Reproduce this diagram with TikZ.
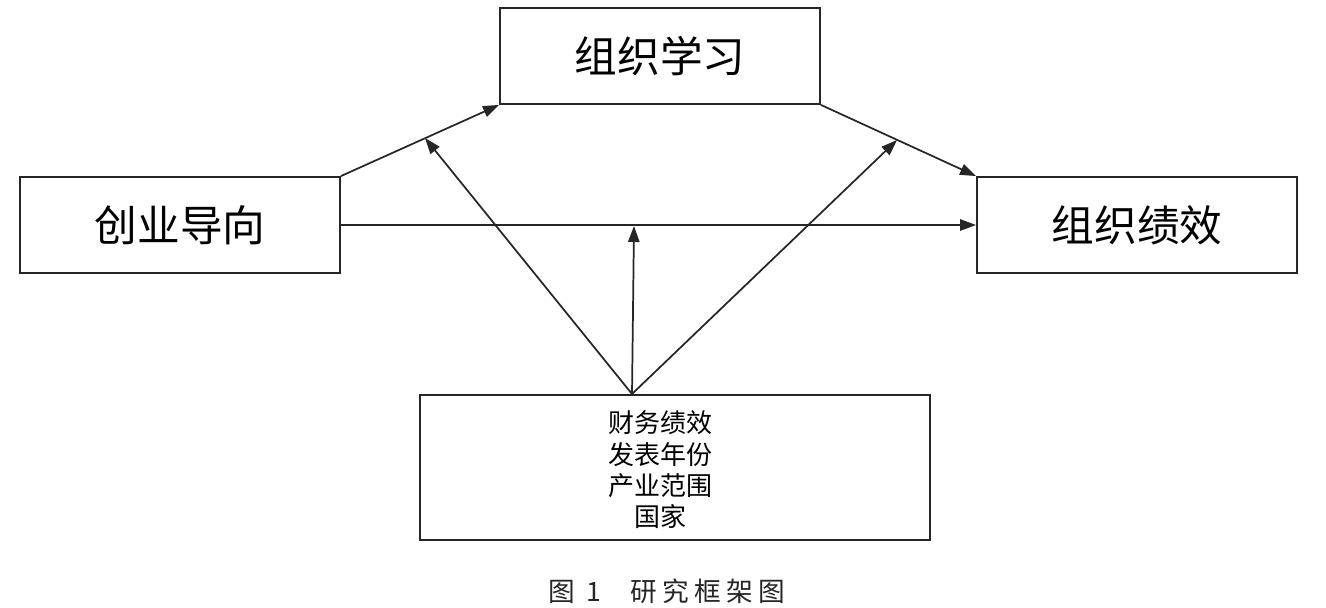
\documentclass[tikz,border=0pt]{standalone}
\usepackage{fontspec}
\usetikzlibrary{arrows.meta}
\newfontfamily\cjk{Noto Sans CJK SC}
\newfontfamily\cjkcap[LetterSpace=20]{Noto Sans CJK SC}
\begin{document}
\begin{tikzpicture}[x=0.75pt,y=-0.75pt,
  box/.style={draw=black!85, line width=1.4pt, minimum width=240pt, minimum height=72pt, inner sep=0pt, font=\cjk\fontsize{32}{38}\selectfont},
  conn/.style={draw=black!85, line width=1.3pt, -{Triangle[length=12pt,width=8.5pt]}}]
\useasboundingbox (0,0) rectangle (1326,607);
\node[box] (learn) at (660,56) {组织学习};
\node[box] (eo) at (180,225) {创业导向};
\node[box] (perf) at (1137,225) {组织绩效};
\node[draw=black!85, line width=1.4pt, minimum width=382.5pt, minimum height=108.75pt, inner sep=0pt] (ctrl) at (675,467.5) {};
\node[font=\cjk\fontsize{19.5}{23.5}\selectfont, align=center] (ctrltext) at (660,470) {财务绩效\\发表年份\\产业范围\\国家};
\coordinate (src) at (632,394);
\coordinate (m1) at (425,138);
\coordinate (m2) at (897,140);
\coordinate (m3) at (634,226);
\draw[conn] (eo.north east) -- (learn.south west);
\draw[conn] (learn.south east) -- (perf.north west);
\draw[conn] (eo.east) -- (perf.west);
\draw[conn] (src) -- (m1);
\draw[conn] (src) -- (m2);
\draw[conn] (src) -- (m3);
\node[font=\cjkcap\fontsize{20}{24}\selectfont, text=black!85] (cap) at (667,591) {图 1\hspace{22pt}研究框架图};
\end{tikzpicture}
\end{document}
